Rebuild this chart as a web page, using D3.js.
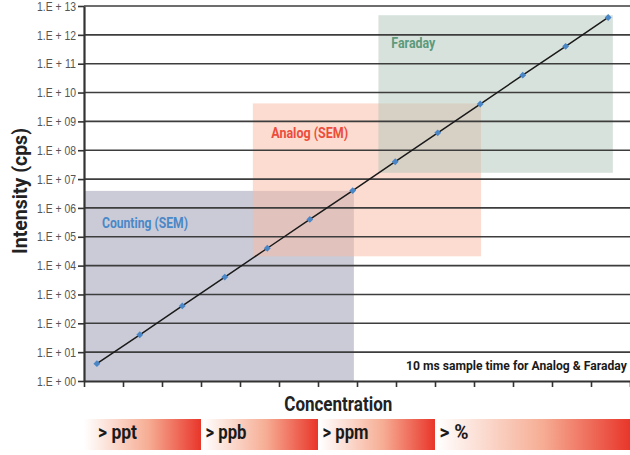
<!DOCTYPE html>
<html>
<head>
<meta charset="utf-8">
<script src="https://cdn.jsdelivr.net/npm/d3@7"></script>
<style>
  body { margin: 0; background: #fff; }
  svg { display: block; font-family: Roboto, "Liberation Sans", sans-serif; }
</style>
</head>
<body>
<svg id="chart" width="630" height="455"></svg>
<script>
// measured points: x in axis tick units, y in cps
const pointX = [0.33, 1.43, 2.52, 3.61, 4.70, 5.79, 6.89, 7.98, 9.07, 10.16, 11.25, 12.35, 13.44];
const pointY = [4e0, 4e1, 4e2, 4e3, 4e4, 4e5, 4e6, 4e7, 4e8, 4e9, 4e10, 4e11, 4e12];
const yExponents = [0, 1, 2, 3, 4, 5, 6, 7, 8, 9, 10, 11, 12, 13];
const xTicks = [0, 1, 2, 3, 4, 5, 6, 7, 8, 9, 10, 11, 12, 13, 14];

// detector regions
const regionNames = ["Counting (SEM)", "Analog (SEM)", "Faraday"];
const regionX = [[0, 6.92], [4.33, 10.18], [7.55, 13.56]];
const regionY = [[1, 3.9e6], [2.1e4, 4.2e9], [1.65e7, 4.8e12]];

// concentration bands (in tick units)
const bandLabels = ["> ppt", "> ppb", "> ppm", "> %"];
const bandX = [[0, 3], [3, 6], [6, 9], [9, 14]];

const svg = d3.select("#chart");
const margin = {top: 6, right: 0, bottom: 74, left: 84};
const width = +svg.attr("width") - margin.left - margin.right;
const height = +svg.attr("height") - margin.top - margin.bottom;

const x = d3.scaleLinear().domain([0, 14]).range([0, width]);
const y = d3.scaleLog().domain([1, 1e13]).range([height, 0]);

// squeeze text to the width it has in the condensed original
function fit(sel, w) {
    sel.attr("textLength", w).attr("lengthAdjust", "spacingAndGlyphs");
}

const g = svg.append("g")
    .attr("transform", `translate(${margin.left},${margin.top})`);

// regions
const regionFill = ["#cacbd7", "#fab9a1", "#b1c5b9"];
const regionOpacity = [1, 0.5, 0.5];
const regionText = ["#4a88c7", "#ec4c3c", "#5b9a7b"];
const labelPos = [[0.46, 2e5], [4.8, 2.6e8], [7.88, 3.4e11]];
const labelWidth = [86, 77, 44];

regionNames.forEach((name, i) => {
    g.append("rect")
        .attr("x", x(regionX[i][0]))
        .attr("y", y(regionY[i][1]))
        .attr("width", x(regionX[i][1]) - x(regionX[i][0]))
        .attr("height", y(regionY[i][0]) - y(regionY[i][1]))
        .attr("fill", regionFill[i])
        .attr("fill-opacity", regionOpacity[i]);
});

// grid lines
g.append("g")
    .selectAll("line")
    .data(yExponents.slice(1))
    .join("line")
    .attr("x1", 0)
    .attr("x2", width)
    .attr("y1", d => y(Math.pow(10, d)))
    .attr("y2", d => y(Math.pow(10, d)))
    .attr("stroke", "#3d3d3d")
    .attr("stroke-width", 1.6);

regionNames.forEach((name, i) => {
    g.append("text")
        .attr("x", x(labelPos[i][0]))
        .attr("y", y(labelPos[i][1]))
        .attr("fill", regionText[i])
        .attr("font-size", "14px")
        .attr("font-weight", "bold")
        .text(name)
        .call(fit, labelWidth[i]);
});

// y axis
g.append("g")
    .call(d3.axisLeft(y)
        .tickValues(yExponents.map(e => Math.pow(10, e)))
        .tickFormat(d => "1.E + " + String(Math.round(Math.log10(d))).padStart(2, "0"))
        .tickSize(6)
        .tickSizeOuter(0))
    .call(a => a.select(".domain").attr("stroke", "#333").attr("stroke-width", 2.2))
    .call(a => a.selectAll(".tick line").attr("stroke", "#333").attr("stroke-width", 1.6))
    .call(a => a.selectAll(".tick text")
        .attr("x", -8)
        .style("font-family", "inherit")
        .style("font-size", "13px")
        .style("fill", "#555")
        .call(fit, 39));

// x axis
g.append("g")
    .attr("transform", `translate(0,${height})`)
    .call(d3.axisBottom(x)
        .tickValues(xTicks)
        .tickFormat("")
        .tickSize(6)
        .tickSizeOuter(0))
    .call(a => a.select(".domain").attr("stroke", "#333").attr("stroke-width", 2.2))
    .call(a => a.selectAll(".tick line").attr("stroke", "#333").attr("stroke-width", 1.6));

// line + points
g.append("path")
    .datum(pointX.map((d, i) => [d, pointY[i]]))
    .attr("fill", "none")
    .attr("stroke", "#1a1a1a")
    .attr("stroke-width", 1.5)
    .attr("d", d3.line().x(d => x(d[0])).y(d => y(d[1])));

g.append("g")
    .selectAll("path")
    .data(pointX.map((d, i) => [d, pointY[i]]))
    .join("path")
    .attr("transform", d => `translate(${x(d[0])},${y(d[1])})`)
    .attr("d", d3.symbol(d3.symbolDiamond2, 30))
    .attr("fill", "#4a86c6");

// note: squeezed with a transform so it ends inside the right edge
const noteWidth = 221;
const note = g.append("text")
    .attr("font-size", "13.5px")
    .attr("font-weight", "bold")
    .attr("fill", "#1a1a1a")
    .text("10 ms sample time for Analog & Faraday");
const noteScale = noteWidth / note.node().getComputedTextLength();
note.attr("transform", `translate(${width - 3 - noteWidth},${y(4e0) + 6}) scale(${noteScale},1)`);

// axis labels
g.append("text")
    .attr("x", x(6.52))
    .attr("y", height + 30)
    .attr("text-anchor", "middle")
    .attr("font-size", "21px")
    .attr("font-weight", "bold")
    .attr("fill", "#222")
    .text("Concentration")
    .call(fit, 108);

svg.append("text")
    .attr("transform", "rotate(-90)")
    .attr("x", -191)
    .attr("y", 27)
    .attr("text-anchor", "middle")
    .attr("font-size", "21px")
    .attr("font-weight", "bold")
    .attr("fill", "#222")
    .text("Intensity (cps)")
    .call(fit, 126);

// concentration bands
const defs = svg.append("defs");
const grad = defs.append("linearGradient").attr("id", "band-grad");
grad.append("stop").attr("offset", "0%").attr("stop-color", "#ffffff");
grad.append("stop").attr("offset", "55%").attr("stop-color", "#f6ad94");
grad.append("stop").attr("offset", "100%").attr("stop-color", "#e8362a");

const bandTop = height + 38;
const bandTextWidth = [39, 41, 46, 29];
const band = g.append("g");
bandLabels.forEach((label, i) => {
    const x0 = x(bandX[i][0]) + (i === 0 ? 0 : 1.5);
    const x1 = x(bandX[i][1]);
    band.append("rect")
        .attr("x", x0)
        .attr("y", bandTop)
        .attr("width", x1 - x0)
        .attr("height", 31)
        .attr("fill", "url(#band-grad)");
    band.append("text")
        .attr("x", x0 + (i === 0 ? 14 : 3))
        .attr("y", bandTop + 20)
        .attr("font-size", "20px")
        .attr("font-weight", "bold")
        .attr("fill", "#1a1a1a")
        .text(label)
        .call(fit, bandTextWidth[i]);
});
</script>
</body>
</html>
